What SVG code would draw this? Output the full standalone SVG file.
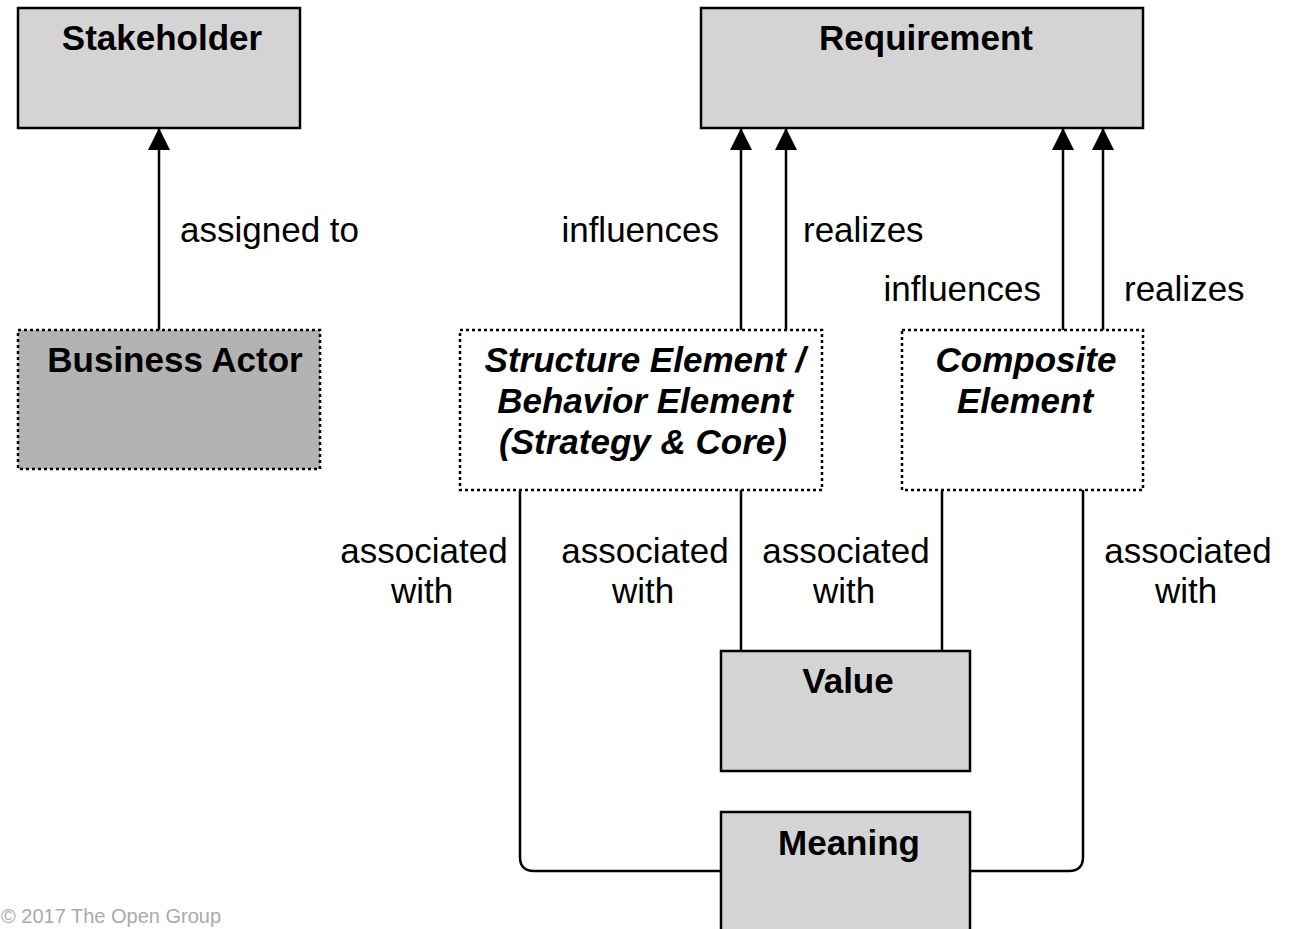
<svg xmlns="http://www.w3.org/2000/svg" width="1293" height="929" viewBox="0 0 1293 929">
<defs>
<marker id="arr" markerUnits="userSpaceOnUse" markerWidth="22" markerHeight="22" refX="21" refY="11" orient="auto" viewBox="0 0 22 22">
<path d="M0,0 L22,11 L0,22 z" fill="#000"/>
</marker>
</defs>
<style>
.box{fill:#d4d4d4;stroke:#000;stroke-width:2.5}
.dot{stroke:#000;stroke-width:2.5;stroke-dasharray:3 3}
.t{font-family:"Liberation Sans",Arial,sans-serif;font-size:35px;font-weight:bold;fill:#000;text-anchor:middle}
.ti{font-family:"Liberation Sans",Arial,sans-serif;font-size:35px;font-weight:bold;font-style:italic;fill:#000;text-anchor:middle}
.l{font-family:"Liberation Sans",Arial,sans-serif;font-size:35px;fill:#000}
.c{stroke:#000;stroke-width:2.5;fill:none}
</style>
<rect width="1293" height="929" fill="#fff"/>
<g id="connectors">
<line class="c" x1="159" y1="330" x2="159" y2="129" marker-end="url(#arr)"/>
<line class="c" x1="741" y1="330" x2="741" y2="129" marker-end="url(#arr)"/>
<line class="c" x1="786" y1="330" x2="786" y2="129" marker-end="url(#arr)"/>
<line class="c" x1="1063" y1="330" x2="1063" y2="129" marker-end="url(#arr)"/>
<line class="c" x1="1103" y1="330" x2="1103" y2="129" marker-end="url(#arr)"/>
<line class="c" x1="741" y1="490" x2="741" y2="651"/>
<line class="c" x1="942" y1="490" x2="942" y2="651"/>
<path class="c" d="M520,490 V857 Q520,871 534,871 H721"/>
<path class="c" d="M1083,490 V857 Q1083,871 1069,871 H970"/>
<text class="l" x="180" y="242">assigned to</text>
<text class="l" x="719" y="242" text-anchor="end">influences</text>
<text class="l" x="803" y="242">realizes</text>
<text class="l" x="1041" y="301" text-anchor="end">influences</text>
<text class="l" x="1124" y="301">realizes</text>
<g text-anchor="middle">
<text class="l" x="424" y="563">associated</text>
<text class="l" x="422" y="603">with</text>
<text class="l" x="645" y="563">associated</text>
<text class="l" x="643" y="603">with</text>
<text class="l" x="846" y="563">associated</text>
<text class="l" x="844" y="603">with</text>
<text class="l" x="1188" y="563">associated</text>
<text class="l" x="1186" y="603">with</text>
</g>
</g>
<g id="stakeholder">
<rect class="box" x="18" y="8" width="282" height="120"/>
<text class="t" x="162" y="50">Stakeholder</text>
</g>
<g id="requirement">
<rect class="box" x="701" y="8" width="442" height="120"/>
<text class="t" x="926" y="50">Requirement</text>
</g>
<g id="business-actor">
<rect class="dot" x="18" y="330" width="302" height="139" fill="#b3b3b3"/>
<text class="t" x="175" y="372">Business Actor</text>
</g>
<g id="structure-behavior">
<rect class="dot" x="460" y="330" width="362" height="160" fill="#fff"/>
<text class="ti" x="645" y="372">Structure Element /</text>
<text class="ti" x="645" y="413">Behavior Element</text>
<text class="ti" x="643" y="454">(Strategy &amp; Core)</text>
</g>
<g id="composite">
<rect class="dot" x="902" y="330" width="241" height="160" fill="#fff"/>
<text class="ti" x="1026" y="372">Composite</text>
<text class="ti" x="1025" y="413">Element</text>
</g>
<g id="value">
<rect class="box" x="721" y="651" width="249" height="120"/>
<text class="t" x="848" y="693">Value</text>
</g>
<g id="meaning">
<rect class="box" x="721" y="812" width="249" height="130"/>
<text class="t" x="849" y="855">Meaning</text>
</g>
<text x="1" y="923" font-family="'Liberation Sans',Arial,sans-serif" font-size="20" fill="#aaaaaa">© 2017 The Open Group</text>
</svg>
